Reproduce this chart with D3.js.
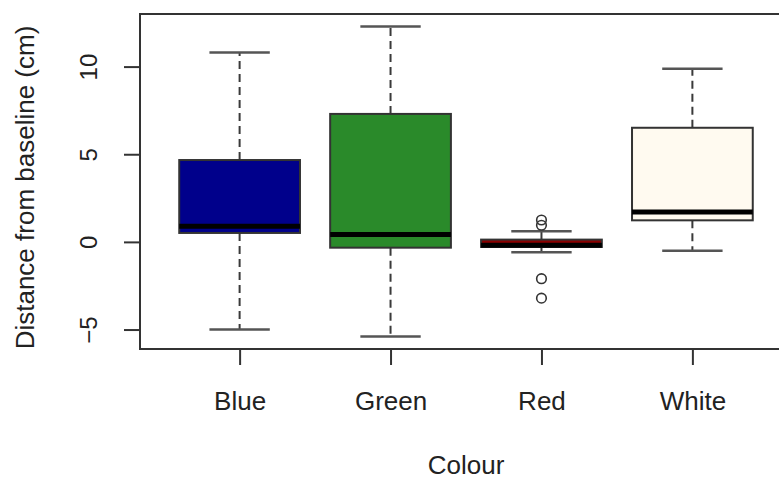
<!DOCTYPE html>
<html><head><meta charset="utf-8">
<script src="https://cdn.jsdelivr.net/npm/d3@7"></script>
<style>
html,body{margin:0;padding:0;background:#fff;}
svg{display:block;font-family:"Liberation Sans",Arial,sans-serif;}
</style></head>
<body>
<svg id="chart" width="779" height="481"></svg>
<script>
const categories = ["Blue", "Green", "Red", "White"];
const fills = ["#00008B", "#2A8A2A", "#8B0000", "#FFFAF0"];
const whiskerLow = [-5.0, -5.40, -0.59, -0.50];
const q1 = [0.51, -0.33, -0.29, 1.23];
const median = [0.89, 0.42, -0.19, 1.71];
const q3 = [4.67, 7.30, 0.13, 6.51];
const whiskerHigh = [10.80, 12.29, 0.61, 9.87];
const outliers = [[], [], [1.25, 0.95, -2.10, -3.21], []];
const yTicks = [-5, 0, 5, 10];
const xTitle = "Colour";
const yTitle = "Distance from baseline (cm)";

(function () {
const svg = d3.select("#chart");
const pL = 140, pR = 792, pT = 14, pB = 349;
const x = d3.scaleLinear().domain([0.34, 4.66]).range([pL, pR]);
const y = d3.scaleLinear().domain([-6.11, 13.0]).range([pB, pT]);
const unit = x(2) - x(1);
const boxW = unit * 0.8;
const capW = boxW * 0.5;
const lineCol = "#3a3a3a";

const data = categories.map((c, i) => ({
  c, i, pos: i + 1, fill: fills[i], lo: whiskerLow[i], q1: q1[i], med: median[i],
  q3: q3[i], hi: whiskerHigh[i], out: outliers[i]
}));

const g = svg.append("g");
data.forEach(d => {
  const cx = x(d.pos);
  const gg = g.append("g");
  gg.append("line").attr("x1", cx).attr("x2", cx).attr("y1", y(d.q3)).attr("y2", y(d.hi))
    .attr("stroke", lineCol).attr("stroke-width", 2).attr("stroke-dasharray", "8,5");
  gg.append("line").attr("x1", cx).attr("x2", cx).attr("y1", y(d.q1)).attr("y2", y(d.lo))
    .attr("stroke", lineCol).attr("stroke-width", 2).attr("stroke-dasharray", "8,5");
  [d.hi, d.lo].forEach(v => {
    gg.append("line").attr("x1", cx - capW / 2).attr("x2", cx + capW / 2)
      .attr("y1", y(v)).attr("y2", y(v)).attr("stroke", "#555").attr("stroke-width", 2.5);
  });
  gg.append("rect").attr("x", cx - boxW / 2).attr("width", boxW)
    .attr("y", y(d.q3)).attr("height", y(d.q1) - y(d.q3))
    .attr("fill", d.fill).attr("stroke", "#333").attr("stroke-width", 2);
  gg.append("line").attr("x1", cx - boxW / 2).attr("x2", cx + boxW / 2)
    .attr("y1", y(d.med)).attr("y2", y(d.med)).attr("stroke", "#000").attr("stroke-width", 5);
  d.out.forEach(v => {
    gg.append("circle").attr("cx", cx).attr("cy", y(v)).attr("r", 4.8)
      .attr("fill", "none").attr("stroke", "#333").attr("stroke-width", 1.6);
  });
});

svg.append("rect").attr("x", pL).attr("y", pT).attr("width", pR - pL).attr("height", pB - pT)
  .attr("fill", "none").attr("stroke", "#333").attr("stroke-width", 2);

const yAxis = d3.axisLeft(y).tickValues(yTicks).tickSize(16).tickPadding(8).tickFormat(d3.format("d"));
const ya = svg.append("g").attr("transform", `translate(${pL},0)`).call(yAxis);
ya.select(".domain").remove();
ya.selectAll(".tick line").attr("stroke", "#333").attr("stroke-width", 2);
ya.selectAll(".tick text").attr("font-size", 24).attr("fill", "#222")
  .attr("text-anchor", "middle").attr("transform", "rotate(-90)")
  .attr("x", 0).attr("y", -60).attr("dy", "0.72em");

const xAxis = d3.axisBottom(x).tickValues(data.map(d => d.pos)).tickSize(16).tickPadding(8)
  .tickFormat(v => categories[v - 1]);
const xa = svg.append("g").attr("transform", `translate(0,${pB})`).call(xAxis);
xa.select(".domain").remove();
xa.selectAll(".tick line").attr("stroke", "#333").attr("stroke-width", 2);
xa.selectAll(".tick text").attr("font-size", 26).attr("fill", "#222").attr("y", 61).attr("dy", "0");

svg.append("text").attr("x", x(2.5)).attr("y", 474).attr("text-anchor", "middle")
  .attr("font-size", 26).attr("fill", "#222").text(xTitle);
svg.append("text").attr("transform", `translate(34,${(pT + pB) / 2 + 6}) rotate(-90)`)
  .attr("text-anchor", "middle").attr("font-size", 26).attr("fill", "#222").text(yTitle);
})();
</script>
</body></html>
